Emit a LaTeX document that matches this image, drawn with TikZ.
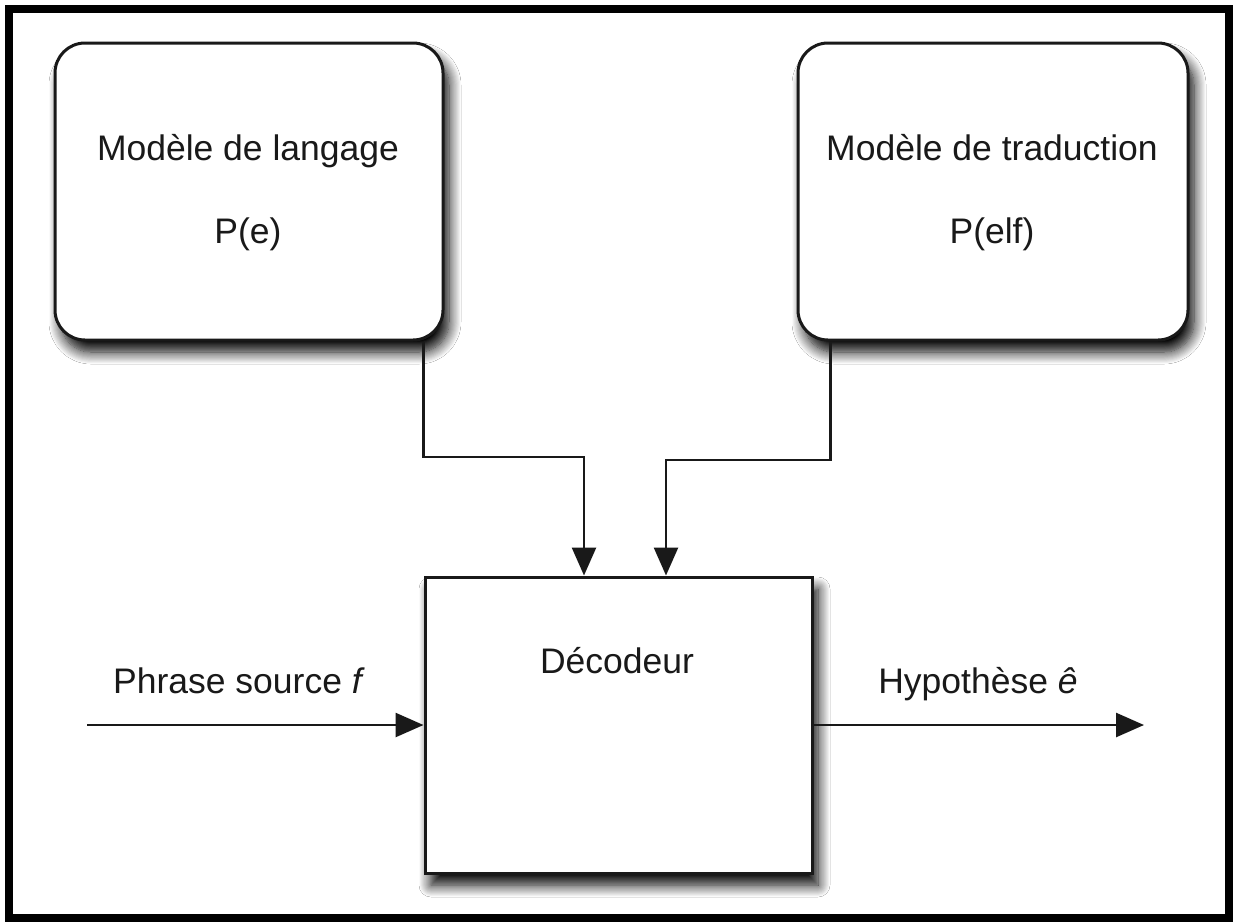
\documentclass[tikz,border=0pt]{standalone}
\usepackage{fontspec}
\setmainfont{Liberation Sans}
\usetikzlibrary{shadows.blur,arrows.meta}
\begin{document}
\begin{tikzpicture}[x=1pt,y=-1pt,
  shadowed/.style={blur shadow={shadow xshift=6pt, shadow yshift=-12pt, shadow blur radius=12pt, shadow blur steps=12, shadow opacity=100}},
  modelbox/.style={draw=black!90, line width=3pt, fill=white, rounded corners=30pt,
    minimum width=388pt, minimum height=297pt, inner sep=0pt, shadowed},
  decbox/.style={draw=black!90, line width=3pt, fill=white,
    minimum width=387pt, minimum height=296pt, inner sep=0pt, shadowed},
  lbl/.style={anchor=base, inner sep=0pt, text=black!90, font=\fontsize{35.5}{42}\selectfont},
  conn/.style={draw=black!90, line width=2.6pt},
  flow/.style={conn, -{Triangle[length=28pt,width=24pt]}}]
  \useasboundingbox (0,0) rectangle (1240,922);
  \fill[white] (0,0) rectangle (1240,922);
  % outer frame
  \draw[line width=8pt] (9,9) rectangle (1229,918);

  % the three blocks
  \node[modelbox] (lm) at (249,191.5) {};
  \node[modelbox, minimum width=390pt] (tm) at (993,191.5) {};
  \node[decbox] (dec) at (618.5,725) {};

  % block texts
  \node[lbl] (lmtitle) at (248,160) {Modèle de langage};
  \node[lbl] (lmprob) at (248,243) {P(e)};
  \node[lbl] (tmtitle) at (992,160) {Modèle de traduction};
  \node[lbl] (tmprob) at (992,243) {P(elf)};
  \node[lbl] (dectitle) at (617,673) {Décodeur};

  % models feeding the decoder
  \coordinate (j1) at (584,457);
  \coordinate (j2) at (666,460);
  \draw[flow] ([xshift=-21pt]lm.south east) |- (j1) -- (j1 |- dec.north);
  \draw[flow] ([xshift=34pt]tm.south west) |- (j2) -- (j2 |- dec.north);

  % input and output
  \coordinate (src) at (87,725);
  \coordinate (hyp) at (1144,725);
  \draw[flow] (src) -- (src -| dec.west);
  \draw[flow] (dec.east |- hyp) -- (hyp);
  \node[lbl] (srclabel) at (239,693) {Phrase source \textit{f}};
  \node[lbl] (hyplabel) at (978,693) {Hypothèse \textit{ê}};
\end{tikzpicture}
\end{document}
